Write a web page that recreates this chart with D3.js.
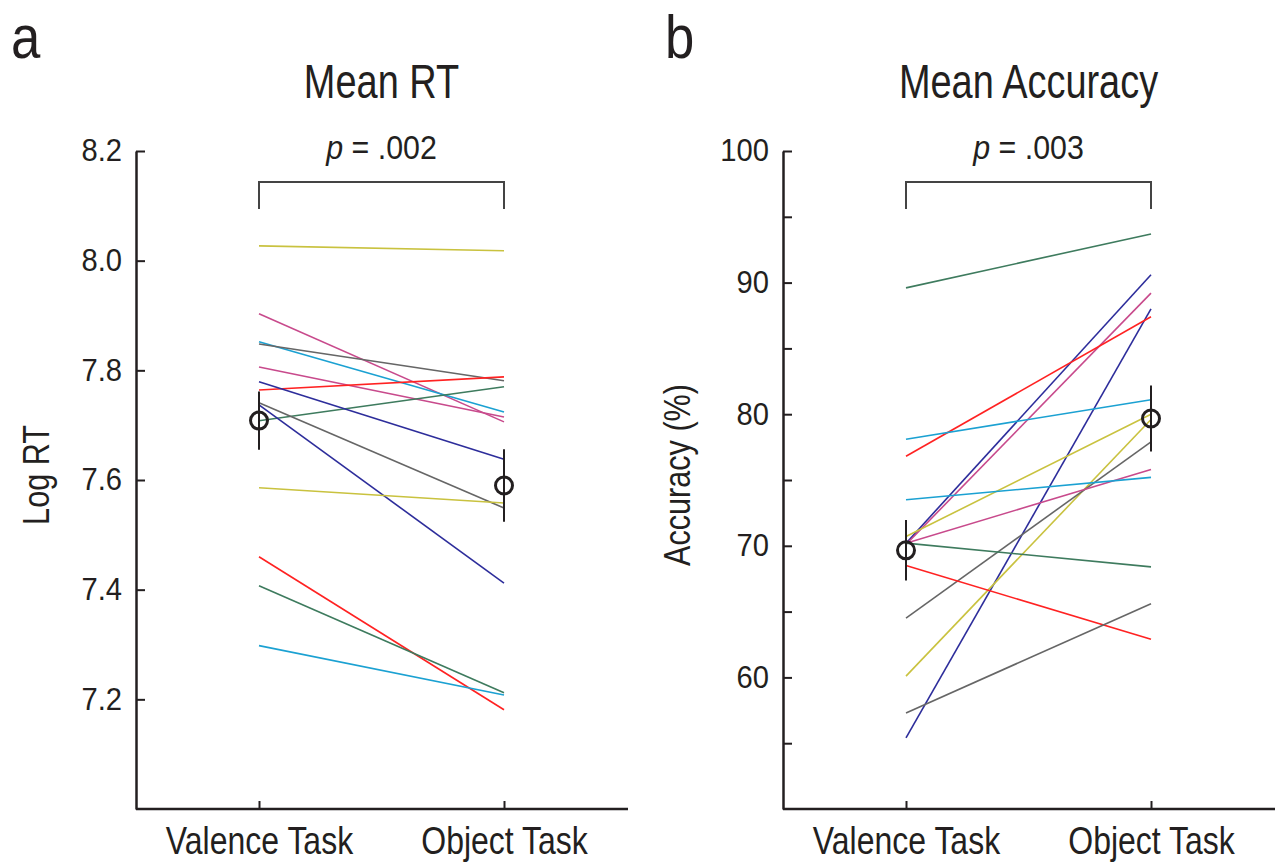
<!DOCTYPE html>
<html>
<head>
<meta charset="utf-8">
<script src="https://cdn.jsdelivr.net/npm/d3@7"></script>
<style>
    body { margin: 0; background: #fff; }
    svg text { font-family: "Liberation Sans", Arial, Helvetica, sans-serif; fill: #231f20; }
</style>
</head>
<body>
<script>
"use strict";

var tasks = ["Valence Task", "Object Task"];

// panel a: log RT per subject
var rtColors = ["#c9c23f", "#c84a8c", "#c84a8c", "#1ba1d2", "#666666", "#ff2222", "#3e7b5e",
                "#2d2d9b", "#666666", "#2d2d9b", "#c9c23f", "#ff2222", "#3e7b5e", "#1ba1d2"];
var rtValence = [8.027, 7.903, 7.806, 7.852, 7.848, 7.764, 7.708, 7.779, 7.741, 7.737, 7.586, 7.460, 7.407, 7.298];
var rtObject  = [8.018, 7.706, 7.715, 7.724, 7.781, 7.788, 7.770, 7.638, 7.549, 7.412, 7.558, 7.181, 7.212, 7.208];
var rtErr = [0.053, 0.066];
var rtTicks = [7.2, 7.4, 7.6, 7.8, 8.0, 8.2];

// panel b: accuracy per subject
var accColors = ["#3e7b5e", "#2d2d9b", "#c84a8c", "#2d2d9b", "#ff2222", "#1ba1d2", "#c9c23f",
                 "#c9c23f", "#666666", "#c84a8c", "#1ba1d2", "#3e7b5e", "#ff2222", "#666666"];
var accValence = [89.6, 70.2, 70.1, 55.4, 76.8, 78.1, 70.7, 60.1, 64.5, 70.2, 73.5, 70.2, 68.5, 57.3];
var accObject  = [93.7, 90.6, 89.2, 88.0, 87.4, 81.1, 80.0, 79.6, 77.9, 75.8, 75.2, 68.4, 62.9, 65.6];
var accErr = [2.3, 2.5];
var accTicks = [60, 70, 80, 90, 100];
var accMinor = [55, 65, 75, 85, 95];

var pTexts = [".002", ".003"];

var width = 1280,
    height = 863;

var svg = d3.select("body").append("svg")
    .attr("width", width)
    .attr("height", height);

// squeeze text horizontally to look like a condensed face
function condense(sel, k) {
    sel.each(function() {
        var w = this.getComputedTextLength();
        d3.select(this)
            .attr("textLength", w * k)
            .attr("lengthAdjust", "spacingAndGlyphs");
    });
}

function drawPanel(o) {
    var g = svg.append("g");

    var x = d3.scalePoint()
              .domain(tasks)
              .range([o.left + 123, o.left + 368]);

    var y = d3.scaleLinear()
              .domain(o.domain)
              .range([809, 151]);

    // y axis
    var yAxis = d3.axisLeft(y)
                  .tickValues(o.ticks)
                  .tickSize(-9)
                  .tickSizeOuter(0)
                  .tickPadding(14)
                  .tickFormat(o.format);
    var ya = g.append("g")
        .attr("transform", "translate(" + o.left + ",0)")
        .call(yAxis);
    ya.selectAll("text").style("font-size", "31px").call(condense, 0.94);

    if (o.minor) {
        g.append("g")
            .attr("transform", "translate(" + o.left + ",0)")
            .call(d3.axisLeft(y).tickValues(o.minor).tickSize(-9).tickFormat(""))
            .select(".domain").remove();
    }

    // x axis
    var xa = g.append("g")
        .attr("transform", "translate(0,809)")
        .call(d3.axisBottom(x).tickSize(-8).tickPadding(17));
    xa.select(".domain").remove();
    xa.selectAll("text").style("font-size", "39px").call(condense, 0.82);
    g.append("line")
        .attr("x1", o.left)
        .attr("x2", o.left + 492)
        .attr("y1", 809)
        .attr("y2", 809)
        .attr("stroke", "#231f20");

    g.selectAll(".tick line").attr("stroke", "#231f20").attr("stroke-width", 2);
    g.selectAll(".domain").attr("stroke", "#231f20").attr("stroke-width", 2.5);
    g.selectAll("line").filter(function() { return !this.parentNode.classList.contains("tick"); })
        .attr("stroke-width", 2.5);

    // subject lines
    g.selectAll("line.subj")
        .data(o.a)
        .enter().append("line")
            .classed("subj", true)
            .attr("x1", x(tasks[0]))
            .attr("x2", x(tasks[1]))
            .attr("y1", function(d) { return y(d); })
            .attr("y2", function(d, i) { return y(o.b[i]); })
            .attr("stroke", function(d, i) { return o.colors[i]; })
            .attr("stroke-width", 1.6);

    // means and error bars
    var means = [d3.mean(o.a), d3.mean(o.b)];
    means.forEach(function(m, i) {
        g.append("line")
            .attr("x1", x(tasks[i]))
            .attr("x2", x(tasks[i]))
            .attr("y1", y(m - o.err[i]))
            .attr("y2", y(m + o.err[i]))
            .attr("stroke", "#231f20")
            .attr("stroke-width", 2);
        g.append("circle")
            .attr("cx", x(tasks[i]))
            .attr("cy", y(m))
            .attr("r", 8.5)
            .attr("fill", "none")
            .attr("stroke", "#231f20")
            .attr("stroke-width", 3);
    });

    // significance bracket
    g.append("path")
        .attr("d", "M" + x(tasks[0]) + ",209V182H" + x(tasks[1]) + "V209")
        .attr("fill", "none")
        .attr("stroke", "#444")
        .attr("stroke-width", 2);

    var cx = (x(tasks[0]) + x(tasks[1])) / 2;
    var pt = g.append("text")
        .attr("x", cx)
        .attr("y", 159)
        .attr("text-anchor", "middle")
        .style("font-size", "33px");
    pt.append("tspan").style("font-style", "italic").text("p");
    pt.append("tspan").text(" = " + o.p);
    condense(pt, 0.92);

    // title
    g.append("text")
        .attr("x", cx)
        .attr("y", 98)
        .attr("text-anchor", "middle")
        .style("font-size", "48px")
        .text(o.title)
        .call(condense, 0.79);

    // y label
    g.append("text")
        .attr("transform", "translate(" + o.ylabX + ",475) rotate(-90)")
        .attr("text-anchor", "middle")
        .style("font-size", "36px")
        .text(o.ylabel)
        .call(condense, 0.85);

    // panel letter
    g.append("text")
        .attr("x", o.letterX)
        .attr("y", 58)
        .style("font-size", "62px")
        .text(o.letter)
        .call(condense, 0.85);
}

drawPanel({
    left: 136, domain: [7.0, 8.2], ticks: rtTicks, format: d3.format(".1f"),
    a: rtValence, b: rtObject, colors: rtColors, err: rtErr,
    p: pTexts[0], title: "Mean RT", ylabel: "Log RT", ylabX: 49, letter: "a", letterX: 11
});

drawPanel({
    left: 783, domain: [50, 100], ticks: accTicks, minor: accMinor, format: d3.format("d"),
    a: accValence, b: accObject, colors: accColors, err: accErr,
    p: pTexts[1], title: "Mean Accuracy", ylabel: "Accuracy (%)", ylabX: 690, letter: "b", letterX: 665
});
</script>
</body>
</html>
